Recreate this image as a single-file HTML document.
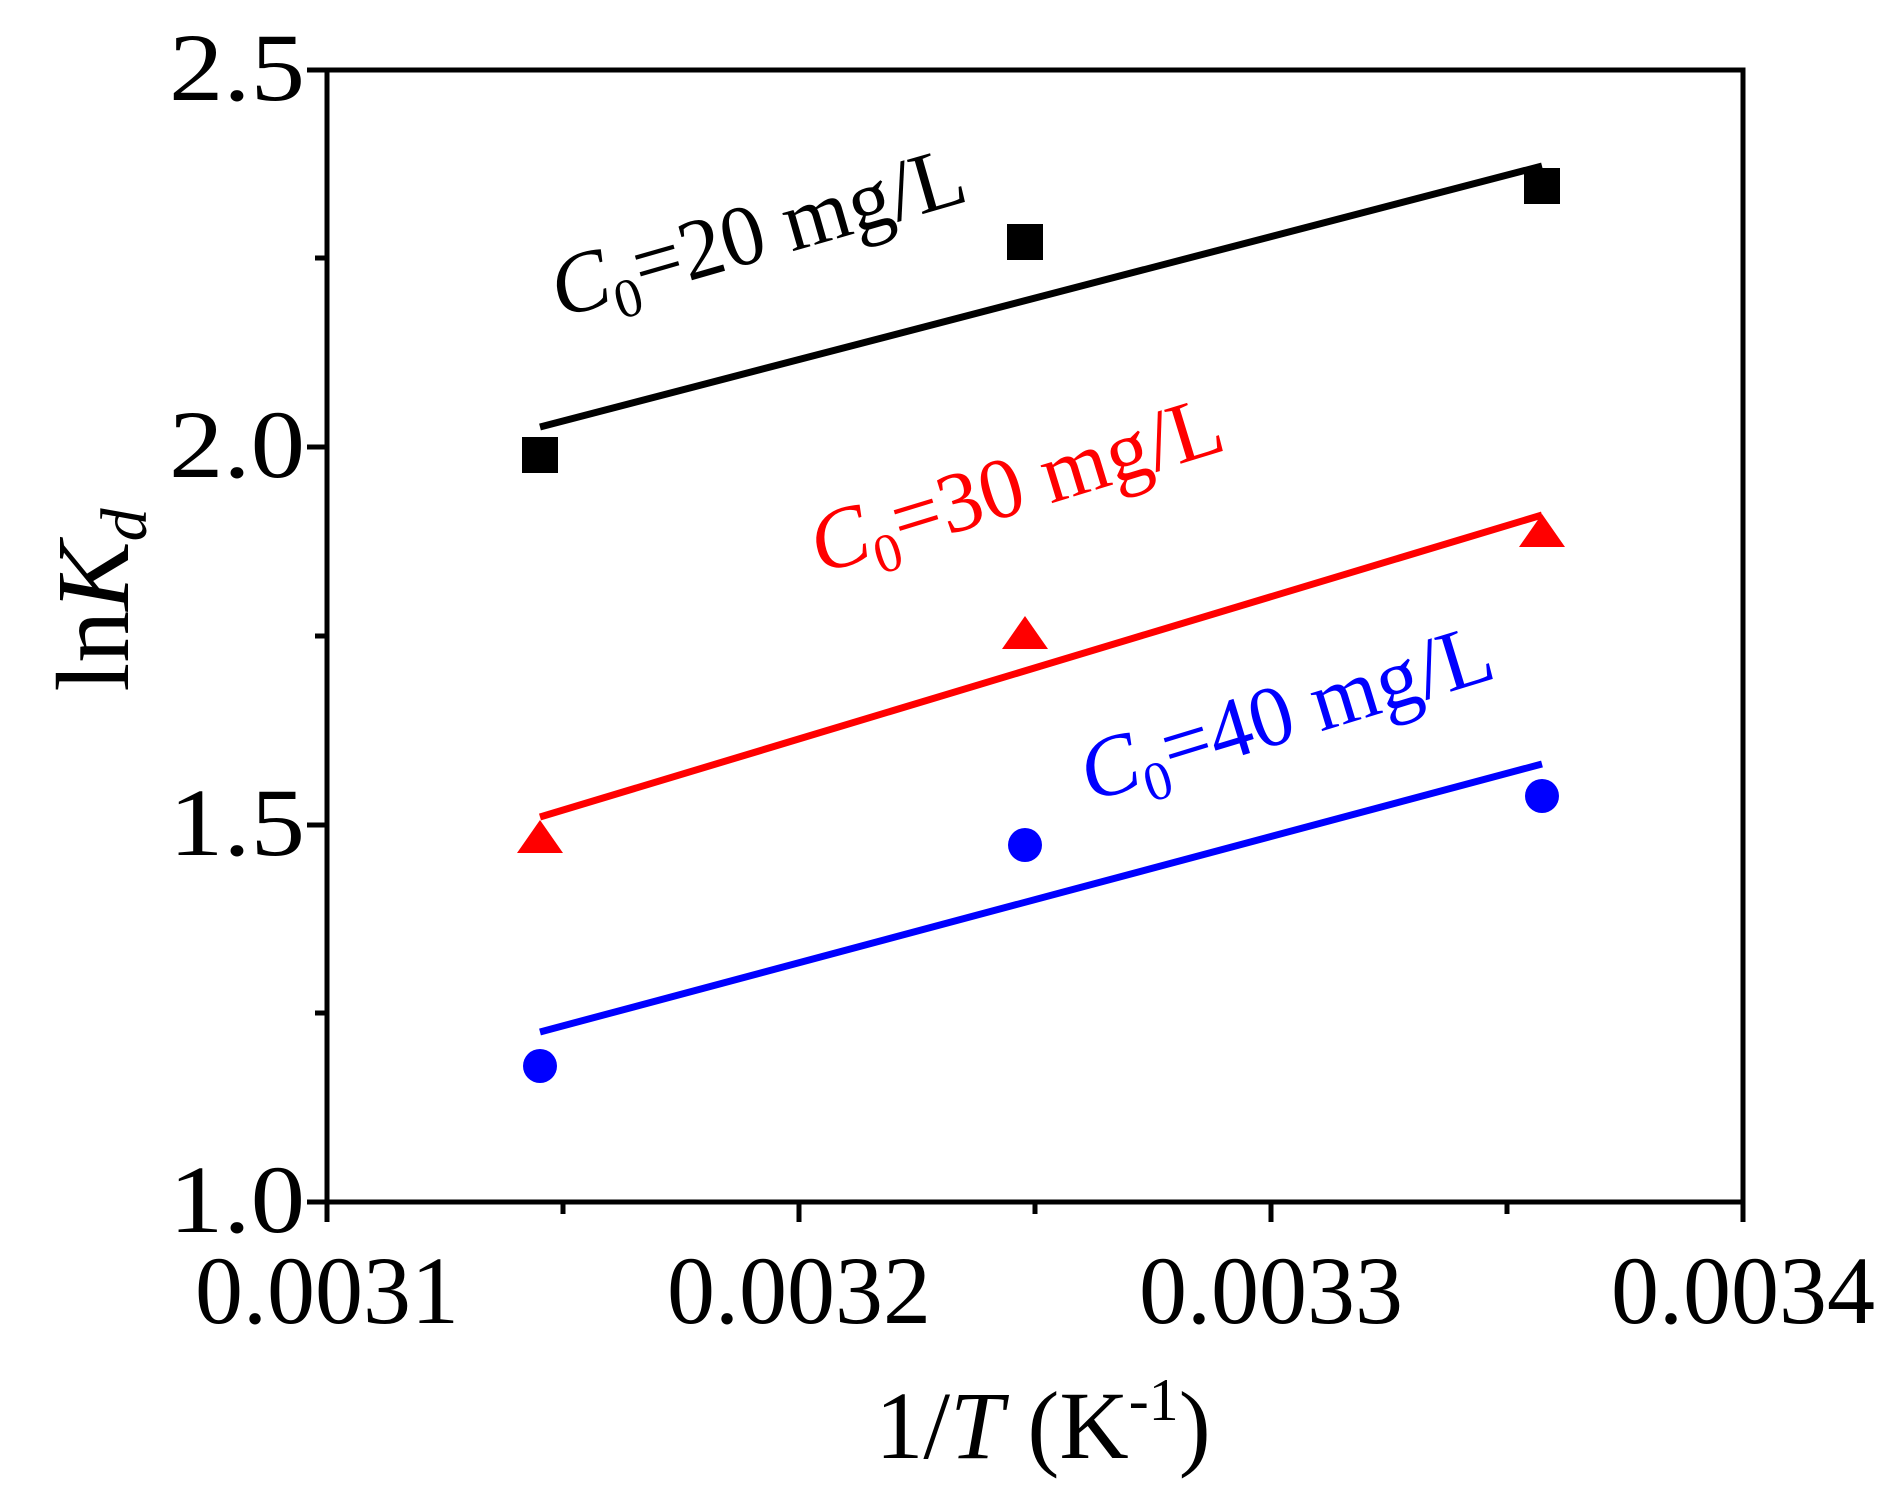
<!DOCTYPE html>
<html><head><style>body{margin:0;background:#fff}</style></head><body>
<svg width="1902" height="1501" xmlns="http://www.w3.org/2000/svg" font-family="Liberation Serif, serif">
<rect width="1902" height="1501" fill="#fff"/>
<g stroke="#000" stroke-width="5" fill="none">
<rect x="327" y="70" width="1416" height="1132"/>
<path d="M327 1202v20M799 1202v20M1271 1202v20M1743 1202v20M563 1202v12M1035 1202v12M1507 1202v12"/>
<path d="M327 1202h-20M327 825h-20M327 447h-20M327 70h-20M327 1013h-12M327 636h-12M327 258h-12"/>
</g>
<g font-size="96" text-anchor="end">
<text x="305" y="1232" textLength="136" lengthAdjust="spacingAndGlyphs">1.0</text><text x="305" y="855" textLength="136" lengthAdjust="spacingAndGlyphs">1.5</text><text x="305" y="477" textLength="136" lengthAdjust="spacingAndGlyphs">2.0</text><text x="305" y="100" textLength="136" lengthAdjust="spacingAndGlyphs">2.5</text>
</g>
<g font-size="96" text-anchor="middle">
<text x="327" y="1323">0.0031</text><text x="799" y="1323">0.0032</text><text x="1271" y="1323">0.0033</text><text x="1743" y="1323">0.0034</text>
<text x="1043" y="1458">1/<tspan font-style="italic">T</tspan> (K<tspan font-size="60" dy="-38">-1</tspan><tspan dy="38">)</tspan></text>
</g>
<text transform="translate(128,600) rotate(-90)" font-size="104" text-anchor="middle">ln<tspan font-style="italic">K</tspan><tspan font-style="italic" font-size="66" dy="18">d</tspan></text>
<g stroke-width="7">
<line x1="540" y1="427" x2="1542" y2="166" stroke="#000"/>
<line x1="540" y1="817" x2="1542" y2="515" stroke="#f00"/>
<line x1="540" y1="1032" x2="1542" y2="764" stroke="#00f"/>
</g>
<g fill="#000">
<rect x="522" y="437" width="36" height="36"/><rect x="1007" y="224" width="36" height="36"/><rect x="1524" y="168" width="36" height="36"/>
</g>
<g fill="#f00">
<polygon points="540,820 563,853 517,853"/><polygon points="1025,616 1048,649 1002,649"/><polygon points="1542,514 1565,547 1519,547"/>
</g>
<g fill="#00f">
<circle cx="540" cy="1066" r="17"/><circle cx="1025" cy="845" r="17"/><circle cx="1542" cy="796" r="17"/>
</g>
<g font-size="86">
<text transform="translate(560,318) rotate(-16)" fill="#000"><tspan font-style="italic">C</tspan><tspan font-size="55" dy="18">0</tspan><tspan dy="-18">=20 mg/L</tspan></text>
<text transform="translate(820,574) rotate(-17)" fill="#f00"><tspan font-style="italic">C</tspan><tspan font-size="55" dy="18">0</tspan><tspan dy="-18">=30 mg/L</tspan></text>
<text transform="translate(1090,802) rotate(-17)" fill="#00f"><tspan font-style="italic">C</tspan><tspan font-size="55" dy="18">0</tspan><tspan dy="-18">=40 mg/L</tspan></text>
</g>
</svg>
</body></html>
